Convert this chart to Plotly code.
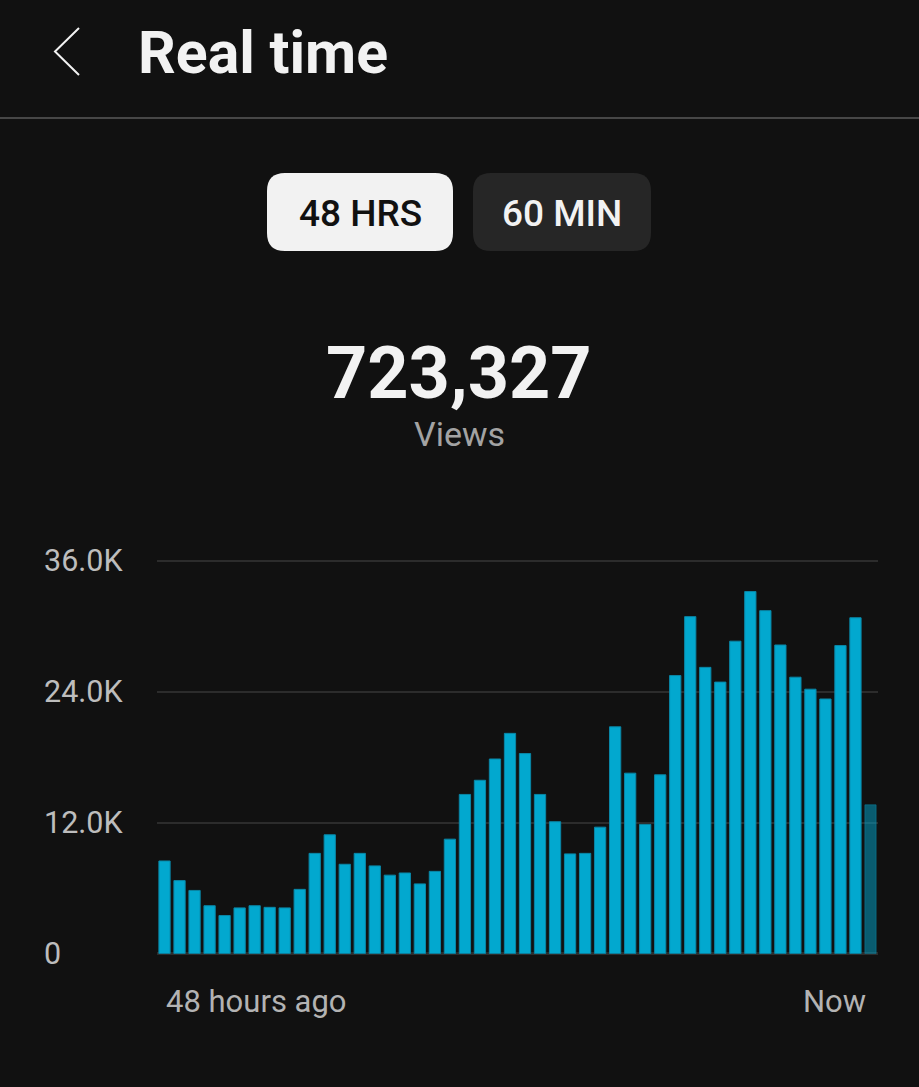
import plotly.graph_objects as go

W, H = 919, 1087

# ---- data ----
hours_ago = list(range(48, 0, -1))
views = [8.5, 6.7, 5.8, 4.4, 3.5, 4.2, 4.4, 4.25, 4.2, 5.9,
         9.2, 10.9, 8.2, 9.2, 8.05, 7.2, 7.4, 6.4, 7.55, 10.5,
         14.6, 15.9, 17.85, 20.2, 18.35, 14.6, 12.1, 9.15, 9.2, 11.6,
         20.8, 16.55, 11.85, 16.4, 25.5, 30.9, 26.25, 24.9, 28.65, 33.2,
         31.45, 28.3, 25.35, 24.25, 23.35, 28.25, 30.8, 13.65]
views = [v * 1000 for v in views]
y_ticks = [0, 12000, 24000, 36000]
y_tick_text = ["0", "12.0K", "24.0K", "36.0K"]
x_labels = ["48 hours ago", "Now"]
total_views = "723,327"
title = "Real time"
tabs = ["48 HRS", "60 MIN"]

BG = "#111111"
BAR = "#02a8cf"
FONT = "Roboto"


def px(x):
    return x / W


def py(y):
    return 1 - y / H


colors = [BAR] * (len(views) - 1) + ["rgba(2,168,207,0.5)"]
line_colors = ["#0a86a6"] * (len(views) - 1) + ["rgba(10,134,166,0.5)"]

fig = go.Figure(go.Bar(
    x=list(range(len(views))),
    y=views,
    marker=dict(color=colors, line=dict(color=line_colors, width=1)),
    width=0.75,
    hoverinfo="skip",
))

y_top = 36500
fig.update_layout(
    width=W, height=H,
    margin=dict(l=0, r=0, t=0, b=0),
    paper_bgcolor=BG, plot_bgcolor=BG,
    showlegend=False,
    font=dict(family=FONT, color="#ffffff"),
    xaxis=dict(domain=[px(157), px(878)], range=[-0.5, len(views) - 0.5],
               showgrid=False, zeroline=False, showticklabels=False,
               showline=False, fixedrange=True),
    yaxis=dict(domain=[py(953.7), py(561 - 500 * (953.7 - 561) / 36000)],
               range=[0, y_top], tickvals=y_ticks, showticklabels=False,
               showgrid=True, gridcolor="#2c2c2c", gridwidth=2.5,
               zeroline=True, zerolinecolor="#2c2c2c", zerolinewidth=2.5,
               showline=False, fixedrange=True),
)

annotations = []
# y tick labels (left aligned)
for v, t in zip(y_ticks, y_tick_text):
    annotations.append(dict(xref="paper", yref="y", x=px(42), y=v, text=t,
                            xanchor="left", yanchor="middle", showarrow=False,
                            font=dict(family=FONT, size=30.5, color="#bdbdbd")))
# x end labels
annotations.append(dict(xref="paper", yref="paper", x=px(164), y=py(1001),
                        text=x_labels[0], xanchor="left", yanchor="middle",
                        showarrow=False,
                        font=dict(family=FONT, size=31, color="#b3b3b3")))
annotations.append(dict(xref="paper", yref="paper", x=px(868), y=py(1001),
                        text=x_labels[1], xanchor="right", yanchor="middle",
                        showarrow=False,
                        font=dict(family=FONT, size=31, color="#b3b3b3")))
# title
annotations.append(dict(xref="paper", yref="paper", x=px(136), y=py(52),
                        text="<b>" + title + "</b>", xanchor="left", yanchor="middle",
                        showarrow=False,
                        font=dict(family=FONT, size=59, color="#f2f2f2")))
# tabs
annotations.append(dict(xref="paper", yref="paper", x=px(360), y=py(213),
                        text=tabs[0], xanchor="center", yanchor="middle",
                        showarrow=False,
                        font=dict(family=FONT, size=37, color="#111111",
                                  weight=500)))
annotations.append(dict(xref="paper", yref="paper", x=px(562), y=py(213),
                        text=tabs[1], xanchor="center", yanchor="middle",
                        showarrow=False,
                        font=dict(family=FONT, size=37, color="#f2f2f2",
                                  weight=500)))
# total
annotations.append(dict(xref="paper", yref="paper", x=px(459), y=py(373),
                        text="<b>" + total_views + "</b>", xanchor="center",
                        yanchor="middle", showarrow=False,
                        font=dict(family=FONT, size=72, color="#f2f2f2")))
annotations.append(dict(xref="paper", yref="paper", x=px(459), y=py(434),
                        text="Views", xanchor="center", yanchor="middle",
                        showarrow=False,
                        font=dict(family=FONT, size=34, color="#a3a3a3")))
fig.update_layout(annotations=annotations)


def rounded_rect(x0, y0, x1, y1, r):
    X0, X1 = px(x0), px(x1)
    Y0, Y1 = py(y0), py(y1)
    rx, ry = r / W, r / H
    return (f"M {X0+rx},{Y0} L {X1-rx},{Y0} Q {X1},{Y0} {X1},{Y0-ry} "
            f"L {X1},{Y1+ry} Q {X1},{Y1} {X1-rx},{Y1} L {X0+rx},{Y1} "
            f"Q {X0},{Y1} {X0},{Y1+ry} L {X0},{Y0-ry} Q {X0},{Y0} {X0+rx},{Y0} Z")


shapes = [
    # back chevron
    dict(type="path", xref="paper", yref="paper",
         path=f"M {px(79)},{py(28)} L {px(55)},{py(51.5)} L {px(79)},{py(75)}",
         line=dict(color="#f2f2f2", width=2)),
    # header separator
    dict(type="line", xref="paper", yref="paper", x0=0, x1=1,
         y0=py(118), y1=py(118), line=dict(color="#474747", width=2)),
    # tab buttons
    dict(type="path", xref="paper", yref="paper",
         path=rounded_rect(267, 173, 453, 251, 18),
         fillcolor="#f2f2f2", line=dict(width=0), layer="below"),
    dict(type="path", xref="paper", yref="paper",
         path=rounded_rect(473, 173, 651, 251, 18),
         fillcolor="#262626", line=dict(width=0), layer="below"),
]
fig.update_layout(shapes=shapes)

fig.write_html(
    "out.html",
    config={"displayModeBar": False, "staticPlot": True},
    post_script="document.body.style.margin='0';"
                "document.body.style.background='#111111';"
                "document.documentElement.style.background='#111111';",
)
